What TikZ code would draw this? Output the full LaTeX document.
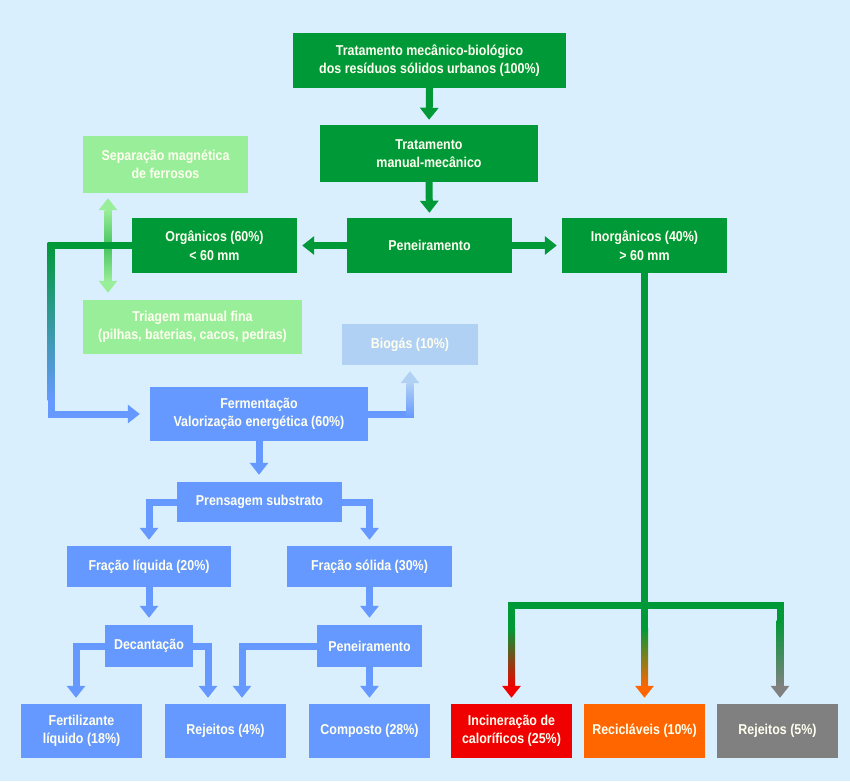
\documentclass[tikz,border=0pt]{standalone}
\usepackage{fontspec}
\setmainfont[FakeStretch=0.87]{Liberation Sans}
\usetikzlibrary{arrows.meta,calc}
\definecolor{cbg}{RGB}{217,239,254}
\definecolor{cgreen}{RGB}{0,153,55}
\definecolor{cmid}{RGB}{70,195,95}
\definecolor{cblue}{RGB}{102,153,255}
\definecolor{clg}{RGB}{153,238,153}
\definecolor{cbio}{RGB}{176,208,244}
\definecolor{cred}{RGB}{240,0,0}
\definecolor{corange}{RGB}{255,102,0}
\definecolor{cgray}{RGB}{128,128,128}
\definecolor{ctext}{RGB}{255,255,240}
\tikzset{
  box/.style={align=center, text=ctext, inner sep=0pt,
    font=\fontsize{14.3}{18.5}\selectfont\bfseries},
  conn/.style={line width=7pt, line join=miter,
    -{Triangle[width=18pt,length=12pt]}, shorten >=6pt},
  plainline/.style={line width=7pt, line join=miter},
}
\begin{document}
\begin{tikzpicture}[x=1pt,y=-1pt]
\fill[cbg] (0,0) rectangle (850,781);
\useasboundingbox (0,0) rectangle (850,781);

% green boxes
\node[box, fill=cgreen, minimum width=273, minimum height=55] (top) at (429.5,60.5)
  {Tratamento mecânico-biológico\\dos resíduos sólidos urbanos (100\%)};
\node[box, fill=cgreen, minimum width=218, minimum height=57] (manual) at (429,153.5)
  {Tratamento\\manual-mecânico};
\node[box, fill=cgreen, minimum width=165, minimum height=55] (pen) at (429.5,245.5)
  {Peneiramento};
\node[box, fill=cgreen, minimum width=165, minimum height=55] (org) at (214.5,245.5)
  {Orgânicos (60\%)\\< 60 mm};
\node[box, fill=cgreen, minimum width=165, minimum height=55] (inorg) at (644.5,245.5)
  {Inorgânicos (40\%)\\> 60 mm};
% light green boxes
\node[box, fill=clg, minimum width=165, minimum height=57] (sep) at (165.5,164.5)
  {Separação magnética\\de ferrosos};
\node[box, fill=clg, minimum width=219, minimum height=54] (tri) at (192.5,327)
  {Triagem manual fina\\(pilhas, baterias, cacos, pedras)};
% blue boxes
\node[box, fill=cblue, minimum width=218, minimum height=54] (ferm) at (259,414)
  {Fermentação\\Valorização energética (60\%)};
\node[box, fill=cbio, minimum width=136, minimum height=41] (bio) at (410,344.5)
  {Biogás (10\%)};
\node[box, fill=cblue, minimum width=165, minimum height=40] (pren) at (259.5,502)
  {Prensagem substrato};
\node[box, fill=cblue, minimum width=164, minimum height=41] (fliq) at (149,566.5)
  {Fração líquida (20\%)};
\node[box, fill=cblue, minimum width=165, minimum height=41] (fsol) at (369.5,566.5)
  {Fração sólida (30\%)};
\node[box, fill=cblue, minimum width=88, minimum height=42] (dec) at (149,646)
  {Decantação};
\node[box, fill=cblue, minimum width=105, minimum height=42] (pen2) at (369.5,646)
  {Peneiramento};
\node[box, fill=cblue, minimum width=121, minimum height=54] (fert) at (81.5,731)
  {Fertilizante\\líquido (18\%)};
\node[box, fill=cblue, minimum width=121, minimum height=54] (rej4) at (225.5,731)
  {Rejeitos (4\%)};
\node[box, fill=cblue, minimum width=121, minimum height=54] (comp) at (369.5,731)
  {Composto (28\%)};
% end boxes
\node[box, fill=cred, minimum width=121, minimum height=54] (inc) at (511.5,731)
  {Incineração de\\caloríficos (25\%)};
\node[box, fill=corange, minimum width=121, minimum height=54] (rec) at (644.5,731)
  {Recicláveis (10\%)};
\node[box, fill=cgray, minimum width=121, minimum height=54] (rej5) at (777.5,731)
  {Rejeitos (5\%)};

% green connectors
\draw[conn, cgreen, shorten >=5pt] (top.south) -- (manual.north);
\draw[conn, cgreen, shorten >=5pt] (manual.south) -- (pen.north);
\draw[conn, cgreen, shorten >=5pt] (pen.west) -- (org.east);
\draw[conn, cgreen, shorten >=5pt] (pen.east) -- (inorg.east -| inorg.west);

% light green double arrow
\draw[line width=7pt, clg, {Triangle[width=18pt,length=12pt]}-{Triangle[width=18pt,length=12pt]}]
  ([xshift=-57.5pt,yshift=-5pt]sep.south) -- ([xshift=-84.5pt,yshift=7pt]tri.north);
\shade[top color=clg, bottom color=cmid] (104.5,210) rectangle (111.5,246);
\shade[top color=cmid, bottom color=clg] (104.5,246) rectangle (111.5,281);

% organic -> fermentation (green to blue)
\coordinate (lc) at (51,245.5);
\draw[conn, cblue, shorten >=10pt] (org.west) -- (lc) |- (ferm.west);
\draw[plainline, cgreen] (org.west) -- (lc);
\shade[top color=cgreen, bottom color=cblue] (47.5,242) rectangle (54.5,400);

% fermentation -> biogas
\draw[conn, cbio, shorten >=6pt] (ferm.east) -| (bio.south);
\draw[plainline, cblue] (ferm.east) -- ++(45.5,0);
\shade[top color=cbio, bottom color=cblue] (406.5,383) rectangle (413.5,417.5);

% blue connectors
\draw[conn, cblue, shorten >=7pt] (ferm.south) -- (ferm.south |- pren.north);
\draw[conn, cblue] (pren.west) -| (fliq.north);
\draw[conn, cblue] (pren.east) -| (fsol.north);
\draw[conn, cblue, shorten >=7pt] (fliq.south) -- (dec.north);
\draw[conn, cblue, shorten >=7pt] (fsol.south) -- (pen2.north);
\draw[conn, cblue] (dec.west) -| ([xshift=-5.5pt]fert.north);
\draw[conn, cblue] (dec.east) -| ([xshift=-17.5pt]rej4.north);
\draw[conn, cblue] (pen2.west) -| ([xshift=16.5pt]rej4.north);
\draw[conn, cblue] (pen2.south) -- (comp.north);

% inorganic tree
\coordinate (j) at ($(inorg.south)+(0,332)$);
\draw[plainline, cgreen] (inorg.south) -- (j);
\draw[plainline, cgreen] (j -| inc.north) -- ([xshift=2.5pt]j -| rej5.north);
\draw[conn, cred] ([yshift=3.5pt]j -| inc.north) -- (inc.north);
\draw[conn, corange] ([yshift=3.5pt]j -| rec.north) -- (rec.north);
\draw[conn, cgray] ([xshift=2.5pt,yshift=3.5pt]j -| rej5.north) -- ([xshift=2.5pt]rej5.north);
\fill[cgreen] (508,601.5) rectangle (515,628);
\shade[top color=cgreen, bottom color=cred] (508,628) rectangle (515,686.5);
\fill[cgreen] (641,601.5) rectangle (648,628);
\shade[top color=cgreen, bottom color=corange] (641,628) rectangle (648,686.5);
\fill[cgreen] (776.5,601.5) rectangle (783.5,620);
\shade[top color=cgreen, bottom color=cgray] (776.5,620) rectangle (783.5,686.5);
\end{tikzpicture}
\end{document}
